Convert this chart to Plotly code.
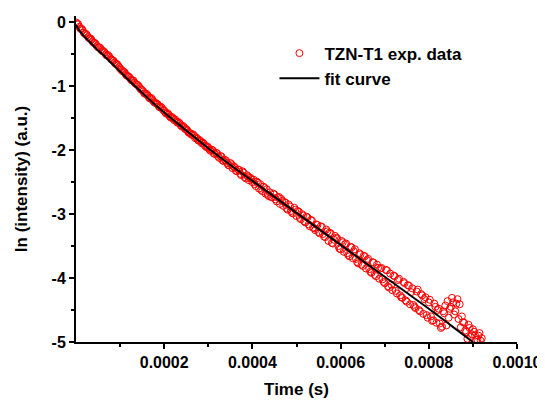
import plotly.graph_objects as go

# ---- data ----
TIME_US = [
    0, 5, 10, 15, 20, 25, 30, 35, 40, 45,
    50, 55, 60, 65, 70, 75, 80, 85, 90, 95,
    100, 105, 110, 115, 120, 125, 130, 135, 140, 145,
    150, 155, 160, 165, 170, 175, 180, 185, 190, 195,
    200, 205, 210, 215, 220, 225, 230, 235, 240, 245,
    250, 255, 260, 265, 270, 275, 280, 285, 290, 295,
    300, 305, 310, 315, 320, 325, 330, 335, 340, 345,
    350, 355, 360, 365, 370, 375, 380, 385, 390, 395,
    400, 405, 410, 415, 420, 425, 430, 435, 440, 445,
    450, 455, 460, 465, 470, 475, 480, 485, 490, 495,
    500, 505, 510, 515, 520, 525, 530, 535, 540, 545,
    550, 555, 560, 565, 570, 575, 580, 585, 590, 595,
    600, 605, 610, 615, 620, 625, 630, 635, 640, 645,
    650, 655, 660, 665, 670, 675, 680, 685, 690, 695,
    700, 705, 710, 715, 720, 725, 730, 735, 740, 745,
    750, 755, 760, 765, 770, 775, 780, 785, 790, 795,
    800, 805, 810, 815, 820, 825, 830, 835, 840, 845,
    850, 855, 860, 865, 870, 875, 880, 885, 890, 895,
    900, 905, 910, 915, 920,
]
LN_INTENSITY = [
    0.00, -0.03, -0.10, -0.12, -0.18, -0.20, -0.25, -0.27, -0.32, -0.34,
    -0.39, -0.40, -0.45, -0.47, -0.52, -0.53, -0.58, -0.60, -0.65, -0.67,
    -0.72, -0.76, -0.78, -0.83, -0.85, -0.90, -0.91, -0.96, -0.98, -1.03,
    -1.06, -1.11, -1.12, -1.17, -1.18, -1.23, -1.26, -1.28, -1.33, -1.34,
    -1.38, -1.43, -1.44, -1.49, -1.50, -1.52, -1.57, -1.58, -1.63, -1.64,
    -1.67, -1.72, -1.74, -1.75, -1.81, -1.82, -1.84, -1.89, -1.90, -1.95,
    -1.96, -2.01, -2.00, -2.06, -2.05, -2.12, -2.10, -2.17, -2.16, -2.23,
    -2.20, -2.28, -2.27, -2.33, -2.31, -2.39, -2.35, -2.44, -2.41, -2.43,
    -2.50, -2.53, -2.49, -2.60, -2.62, -2.57, -2.68, -2.70, -2.66, -2.74,
    -2.69, -2.80, -2.73, -2.76, -2.87, -2.82, -2.93, -2.88, -2.98, -2.90,
    -3.03, -2.96, -3.08, -3.02, -3.13, -3.05, -3.19, -3.10, -3.22, -3.16,
    -3.28, -3.19, -3.31, -3.36, -3.27, -3.29, -3.45, -3.40, -3.37, -3.50,
    -3.55, -3.44, -3.47, -3.61, -3.66, -3.52, -3.58, -3.70, -3.77, -3.63,
    -3.81, -3.66, -3.72, -3.86, -3.92, -3.76, -3.97, -3.84, -3.85, -4.02,
    -4.08, -3.88, -4.15, -4.10, -3.96, -4.20, -4.03, -4.27, -4.31, -4.08,
    -4.37, -4.12, -4.22, -4.42, -4.47, -4.18, -4.52, -4.27, -4.33, -4.58,
    -4.38, -4.60, -4.66, -4.45, -4.50, -4.71, -4.76, -4.55, -4.74, -4.62,
    -4.45, -4.38, -4.52, -4.33, -4.41, -4.60, -4.70, -4.84, -4.73, -4.92,
    -4.80, -4.90, -4.96, -4.86, -4.94,
]
# interleaved samples (half-way between the ones above)
TIME_US_B = [
    2.5, 7.5, 12.5, 17.5, 22.5, 27.5, 32.5, 37.5, 42.5, 47.5,
    52.5, 57.5, 62.5, 67.5, 72.5, 77.5, 82.5, 87.5, 92.5, 97.5,
    102.5, 107.5, 112.5, 117.5, 122.5, 127.5, 132.5, 137.5, 142.5, 147.5,
    152.5, 157.5, 162.5, 167.5, 172.5, 177.5, 182.5, 187.5, 192.5, 197.5,
    202.5, 207.5, 212.5, 217.5, 222.5, 227.5, 232.5, 237.5, 242.5, 247.5,
    252.5, 257.5, 262.5, 267.5, 272.5, 277.5, 282.5, 287.5, 292.5, 297.5,
    302.5, 307.5, 312.5, 317.5, 322.5, 327.5, 332.5, 337.5, 342.5, 347.5,
    352.5, 357.5, 362.5, 367.5, 372.5, 377.5, 382.5, 387.5, 392.5, 397.5,
    402.5, 407.5, 412.5, 417.5, 422.5, 427.5, 432.5, 437.5, 442.5, 447.5,
    452.5, 457.5, 462.5, 467.5, 472.5, 477.5, 482.5, 487.5, 492.5, 497.5,
    502.5, 507.5, 512.5, 517.5, 522.5, 527.5, 532.5, 537.5, 542.5, 547.5,
    552.5, 557.5, 562.5, 567.5, 572.5, 577.5, 582.5, 587.5, 592.5, 597.5,
    602.5, 607.5, 612.5, 617.5, 622.5, 627.5, 632.5, 637.5, 642.5, 647.5,
    652.5, 657.5, 662.5, 667.5, 672.5, 677.5, 682.5, 687.5, 692.5, 697.5,
    702.5, 707.5, 712.5, 717.5, 722.5, 727.5, 732.5, 737.5, 742.5, 747.5,
    752.5, 757.5, 762.5, 767.5, 772.5, 777.5, 782.5, 787.5, 792.5, 797.5,
    802.5, 807.5, 812.5, 817.5, 822.5, 827.5, 832.5, 837.5, 842.5, 847.5,
    852.5, 857.5, 862.5, 867.5, 872.5, 877.5, 882.5, 887.5, 892.5, 897.5,
    902.5, 907.5, 912.5, 917.5,
]
LN_INTENSITY_B = [
    -0.02, -0.07, -0.10, -0.16, -0.18, -0.23, -0.25, -0.30, -0.32, -0.37,
    -0.39, -0.43, -0.45, -0.50, -0.51, -0.56, -0.59, -0.63, -0.65, -0.70,
    -0.74, -0.77, -0.81, -0.84, -0.87, -0.91, -0.94, -0.97, -1.00, -1.05,
    -1.08, -1.12, -1.14, -1.19, -1.20, -1.25, -1.27, -1.31, -1.32, -1.37,
    -1.41, -1.42, -1.47, -1.48, -1.53, -1.55, -1.56, -1.61, -1.62, -1.67,
    -1.69, -1.73, -1.76, -1.77, -1.80, -1.85, -1.86, -1.88, -1.93, -1.94,
    -1.99, -1.99, -2.05, -2.04, -2.10, -2.09, -2.16, -2.15, -2.20, -2.24,
    -2.22, -2.25, -2.32, -2.30, -2.37, -2.33, -2.42, -2.39, -2.47, -2.45,
    -2.46, -2.56, -2.51, -2.53, -2.64, -2.59, -2.61, -2.72, -2.73, -2.68,
    -2.77, -2.74, -2.84, -2.79, -2.81, -2.91, -2.85, -2.95, -2.99, -2.93,
    -2.95, -3.06, -3.00, -3.11, -3.04, -3.16, -3.09, -3.21, -3.25, -3.17,
    -3.30, -3.20, -3.35, -3.24, -3.42, -3.30, -3.46, -3.34, -3.38, -3.54,
    -3.42, -3.59, -3.46, -3.64, -3.51, -3.69, -3.55, -3.75, -3.61, -3.79,
    -3.65, -3.85, -3.70, -3.90, -3.75, -3.95, -3.79, -4.01, -3.84, -4.06,
    -3.87, -4.13, -3.93, -4.19, -3.97, -4.24, -4.01, -4.30, -4.06, -4.35,
    -4.11, -4.41, -4.16, -4.45, -4.21, -4.50, -4.25, -4.56, -4.30, -4.62,
    -4.34, -4.67, -4.40, -4.70, -4.48, -4.78, -4.52, -4.43, -4.36, -4.48,
    -4.31, -4.57, -4.40, -4.64, -4.77, -4.69, -4.82, -4.95, -4.78, -4.88,
    -4.84, -4.97, -4.90, -4.98,
]

FIT_TIME_US = [0, 5, 10, 20, 30, 40, 50, 60, 75, 100, 125, 150, 175, 200,
               250, 300, 350, 400, 450, 500, 550, 600, 650, 700, 750, 800,
               850, 900]
FIT_VALUES = [-0.04, -0.10, -0.15, -0.23, -0.30, -0.37, -0.44, -0.50, -0.60,
              -0.77, -0.94, -1.10, -1.26, -1.41, -1.69, -1.97, -2.23, -2.48,
              -2.73, -2.98, -3.23, -3.48, -3.73, -3.98, -4.23, -4.48, -4.74,
              -5.00]

X_TICK_VALUES = [0.0002, 0.0004, 0.0006, 0.0008, 0.0010]
X_TICK_LABELS = ["0.0002", "0.0004", "0.0006", "0.0008", "0.0010"]
X_MINOR_VALUES = [0.0001, 0.0003, 0.0005, 0.0007, 0.0009]
Y_TICK_VALUES = [0, -1, -2, -3, -4, -5]
Y_TICK_LABELS = ["0", "-1", "-2", "-3", "-4", "-5"]
Y_MINOR_VALUES = [-0.5, -1.5, -2.5, -3.5, -4.5]

# merge both sample sets in time order
pairs = sorted(list(zip(TIME_US, LN_INTENSITY)) + list(zip(TIME_US_B, LN_INTENSITY_B)))
time_s = [p[0] * 1e-6 for p in pairs]
values = [p[1] for p in pairs]
fit_time_s = [t * 1e-6 for t in FIT_TIME_US]

FONT = "Liberation Sans, Arial, sans-serif"

fig = go.Figure()
fig.add_trace(go.Scatter(
    x=time_s, y=values, mode="markers", name="TZN-T1 exp. data",
    marker=dict(symbol="circle-open", size=7, color="#ff0000",
                line=dict(width=1, color="#ff0000")),
))
fig.add_trace(go.Scatter(
    x=fit_time_s, y=FIT_VALUES, mode="lines", name="fit curve",
    line=dict(color="black", width=2, shape="spline"),
))

axis_common = dict(
    showline=True, linecolor="black", linewidth=2, mirror=False,
    showgrid=False, zeroline=False, ticks="outside", ticklen=5,
    tickwidth=2, tickcolor="black", automargin=False,
    tickfont=dict(family=FONT, size=16, color="black", weight="bold"),
)

fig.update_xaxes(
    range=[0, 0.001], tickmode="array", tickvals=X_TICK_VALUES,
    ticktext=X_TICK_LABELS,
    minor=dict(tickmode="array", tickvals=X_MINOR_VALUES, ticks="outside",
               ticklen=3, tickwidth=2, tickcolor="black"),
    title=dict(text="<b>Time (s)</b>", standoff=13,
               font=dict(family=FONT, size=17, color="black")),
    **axis_common,
)
fig.update_yaxes(
    range=[-5, 0.1], tickmode="array", tickvals=Y_TICK_VALUES,
    ticktext=Y_TICK_LABELS,
    minor=dict(tickmode="array", tickvals=Y_MINOR_VALUES, ticks="outside",
               ticklen=3, tickwidth=2, tickcolor="black"),
    title=dict(text="<b>ln (intensity) (a.u.)</b>", standoff=20,
               font=dict(family=FONT, size=17, color="black")),
    **axis_common,
)

# the page body has an 8px margin, so the figure is sized to fit inside it
fig.update_layout(
    width=537, height=395,
    margin=dict(l=68, r=28, t=8, b=61, autoexpand=False),
    paper_bgcolor="white", plot_bgcolor="white",
    showlegend=True,
    legend=dict(
        x=0.45, y=0.940, xanchor="left", yanchor="top",
        bgcolor="rgba(0,0,0,0)", borderwidth=0,
        font=dict(family=FONT, size=17, color="black", weight="bold"),
        itemwidth=40, tracegroupgap=0,
    ),
)

fig.write_html("out.html")
